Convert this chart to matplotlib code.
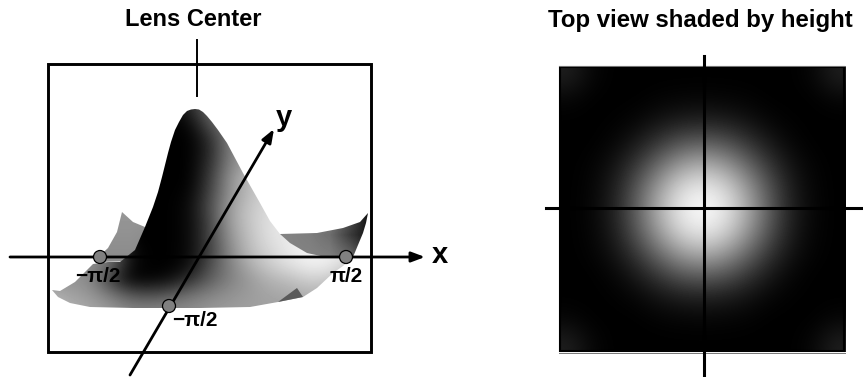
import numpy as np
import matplotlib
matplotlib.use('Agg')
import matplotlib.pyplot as plt
from matplotlib.patches import Polygon, Rectangle, Circle

plt.rcParams['font.family'] = ['Liberation Sans', 'DejaVu Sans']

# outline of the hill and the near part of the surface (pixels)
front_x = [195, 199, 203, 207, 212, 218, 227, 243, 260, 270, 280, 290, 307, 330, 353, 343, 333, 317, 303, 278, 250,
           200, 133, 90, 70, 58, 52, 60, 75, 93, 108, 120, 135, 145, 153, 158, 162, 168, 171, 175, 179, 183, 187, 191]
front_y = [109, 109.5, 112, 116, 122, 130, 143, 173, 203, 221, 234, 243, 253, 258, 257, 266, 273, 288, 297, 302, 307,
           308, 308, 307, 303, 297, 290, 291, 282, 264, 262, 262, 250, 227, 207, 192, 177, 153, 142, 130, 122, 115, 111, 109.5]

# outline of the far part of the surface, mostly hidden behind the hill
back_x = [122, 133, 145, 280, 317, 343, 360, 368, 366, 363, 353, 93, 108, 117]
back_y = [212, 222, 227, 234, 233, 228, 222, 213, 223, 233, 257, 262, 248, 232]

fold_x = [297, 303, 278]
fold_y = [288, 297, 302]

# far surface grey levels, columns 110-370 in steps of 20, rows 215-275 in steps of 20
back_shade = [
    [150, 150, 150, 145, 140, 135, 130, 130, 130, 130, 130, 125, 80, 10],
    [145, 145, 140, 135, 130, 130, 130, 130, 130, 130, 125, 110, 60, 15],
    [140, 140, 135, 130, 130, 130, 130, 130, 130, 130, 130, 125, 100, 50],
    [140, 140, 135, 130, 130, 130, 130, 130, 130, 130, 130, 130, 120, 90],
]

# near surface grey levels, columns 50-370 in steps of 20, y 108-308 in 15 rows
front_shade = [
    [0, 0, 0, 0, 0, 0, 0, 40, 110, 130, 130, 130, 130, 130, 130, 130, 130],
    [0, 0, 0, 0, 0, 0, 0, 10, 90, 130, 130, 130, 130, 130, 130, 130, 130],
    [0, 0, 0, 0, 0, 0, 0, 0, 50, 130, 150, 150, 150, 150, 150, 150, 150],
    [0, 0, 0, 0, 0, 0, 0, 0, 40, 130, 160, 170, 170, 170, 170, 170, 170],
    [0, 0, 0, 0, 0, 0, 0, 0, 50, 135, 170, 190, 190, 190, 190, 190, 190],
    [0, 0, 0, 0, 0, 0, 0, 0, 60, 150, 190, 210, 210, 210, 210, 210, 210],
    [0, 0, 0, 0, 0, 0, 0, 5, 70, 150, 190, 215, 220, 220, 220, 220, 220],
    [0, 0, 0, 0, 0, 0, 0, 10, 80, 160, 200, 220, 230, 230, 230, 230, 230],
    [0, 0, 0, 0, 0, 0, 0, 10, 70, 160, 200, 225, 235, 235, 235, 235, 235],
    [140, 140, 140, 130, 0, 0, 0, 10, 70, 150, 195, 225, 235, 240, 240, 240, 240],
    [140, 140, 140, 125, 10, 0, 0, 10, 65, 140, 190, 215, 235, 245, 240, 230, 230],
    [145, 145, 145, 110, 10, 0, 0, 15, 80, 130, 175, 205, 225, 240, 235, 200, 190],
    [150, 145, 140, 60, 5, 5, 15, 50, 95, 130, 155, 180, 190, 210, 200, 170, 170],
    [175, 160, 150, 120, 80, 70, 85, 110, 130, 145, 155, 165, 170, 180, 170, 170, 170],
    [190, 175, 165, 150, 130, 130, 135, 140, 150, 155, 160, 160, 160, 165, 170, 170, 170],
]

# one quadrant of the top view, centre at the top left
top_quadrant = [
    [255, 235, 175, 95, 32, 6, 0],
    [235, 215, 155, 85, 28, 5, 0],
    [175, 155, 108, 55, 18, 3, 0],
    [95, 85, 55, 25, 6, 0, 0],
    [32, 28, 18, 6, 1, 0, 0],
    [6, 5, 3, 0, 0, 0, 6],
    [0, 0, 0, 0, 0, 6, 30],
]

tick_points = [(100, 257), (346, 257), (169, 306)]
tick_labels = ['\u2212\u03c0/2', '\u03c0/2', '\u2212\u03c0/2']
tick_label_pos = [(98, 277), (346, 277), (195, 320)]

fig = plt.figure(figsize=(8.63, 3.77), dpi=100)
ax = fig.add_axes([0, 0, 1, 1])

# far part first, then the hill over it
im_back = ax.imshow(np.array(back_shade), cmap='gray', vmin=0, vmax=255, extent=(100, 380, 285, 205),
                    interpolation='bilinear', aspect='auto', zorder=1)
im_back.set_clip_path(Polygon(np.column_stack([back_x, back_y]), closed=True, transform=ax.transData))
im_front = ax.imshow(np.array(front_shade), cmap='gray', vmin=0, vmax=255, extent=(40, 380, 315, 101),
                     interpolation='bicubic', aspect='auto', zorder=1.5)
im_front.set_clip_path(Polygon(np.column_stack([front_x, front_y]), closed=True, transform=ax.transData))
ax.add_patch(Polygon(np.column_stack([fold_x, fold_y]), closed=True, facecolor='#5a5a5a', edgecolor='none', zorder=2))

# frame round the surface
ax.add_patch(Rectangle((48, 64), 323, 288, fill=False, edgecolor='black', linewidth=2.1, zorder=3))
ax.plot([197, 197], [40, 96], color='black', linewidth=1.4, zorder=3)

# x and y axes
ax.annotate('', xy=(425, 257), xytext=(10, 257), zorder=4,
            arrowprops=dict(arrowstyle='-|>,head_width=0.3,head_length=0.8', color='black', lw=2,
                            shrinkA=0, shrinkB=0))
ax.annotate('', xy=(274, 129), xytext=(130, 375), zorder=4,
            arrowprops=dict(arrowstyle='-|>,head_width=0.3,head_length=0.8', color='black', lw=2,
                            shrinkA=0, shrinkB=0))

for (px, py), label, (lx, ly) in zip(tick_points, tick_labels, tick_label_pos):
    ax.add_patch(Circle((px, py), 6.5, facecolor='#808080', edgecolor='black', linewidth=0.9, zorder=5))
    ax.text(lx, ly, label, ha='center', va='center', fontsize=15, fontweight='bold', zorder=6)

ax.text(440, 255, 'x', ha='center', va='center', fontsize=21, fontweight='bold')
ax.text(284, 118, 'y', ha='center', va='center', fontsize=21, fontweight='bold')
ax.text(193, 20, 'Lens Center', ha='center', va='center', fontsize=17, fontweight='bold')
ax.text(700, 20, 'Top view shaded by height', ha='center', va='center', fontsize=17.3, fontweight='bold')

# top view
quad = np.array(top_quadrant)
right = np.hstack([quad[:, :0:-1], quad])
full = np.vstack([right[:0:-1], right])
ax.imshow(full, cmap='gray', vmin=0, vmax=255, extent=(559, 845, 352, 66), interpolation='bicubic',
          aspect='auto', zorder=1)
ax.add_patch(Rectangle((560, 67), 284, 284, fill=False, edgecolor='black', linewidth=1.5, zorder=2))
ax.plot([559, 845], [65.5, 65.5], color='#777777', linewidth=0.7, zorder=2)
ax.plot([559, 845], [352.5, 352.5], color='#777777', linewidth=0.7, zorder=2)
ax.plot([703.5, 703.5], [56, 377], color='black', linewidth=2.2, zorder=3)
ax.plot([546, 863], [208, 208], color='black', linewidth=2.2, zorder=3)

ax.set_xlim(0, 863)
ax.set_ylim(377, 0)
ax.axis('off')

fig.savefig('out.png', dpi=100, facecolor='white')
